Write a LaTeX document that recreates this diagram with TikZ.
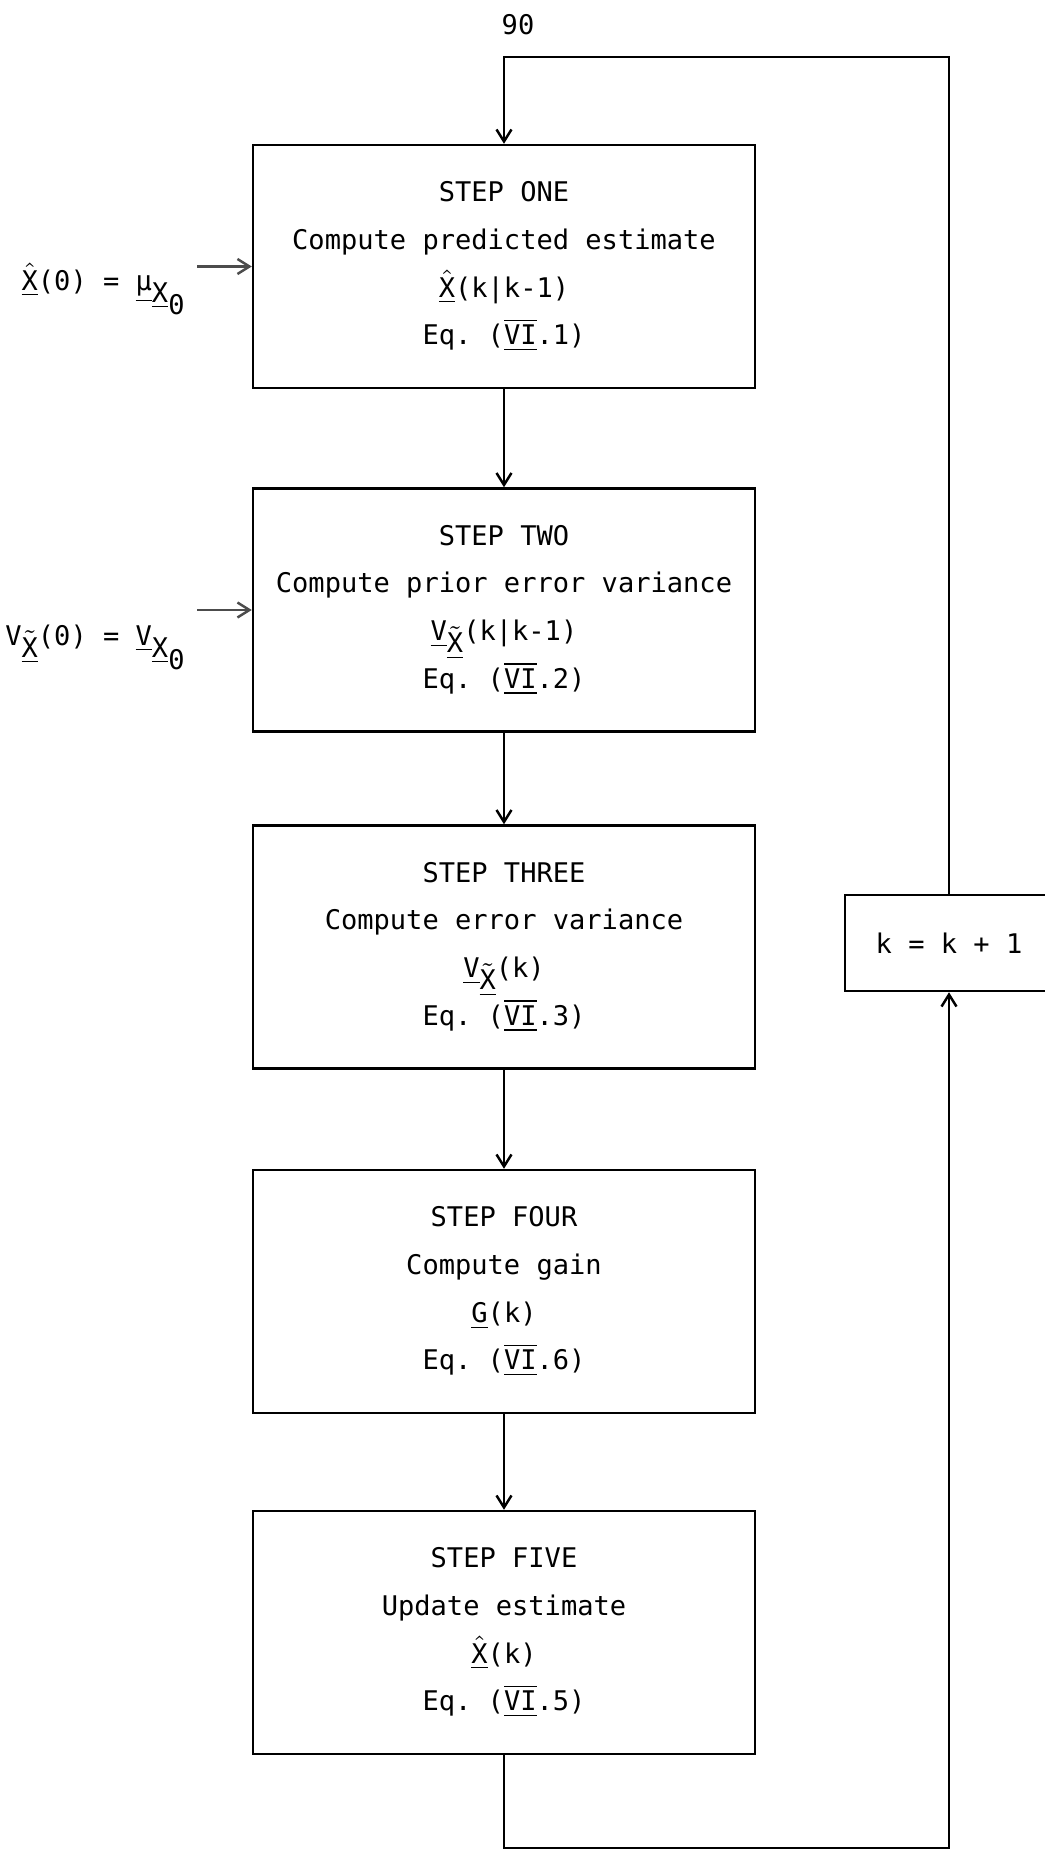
\documentclass[tikz,border=0pt]{standalone}
\usepackage{amsmath}
\usepackage{fontspec}
\setmonofont{DejaVu Sans Mono}
\usetikzlibrary{arrows.meta}
\newcommand{\tsub}[1]{\raisebox{-0.45em}{#1}}
\newcommand{\estX}{$\hat{\underline{\text{X}}}$}
\newcommand{\tildX}{\tsub{$\tilde{\underline{\text{X}}}$}}
\newcommand{\varV}{\underline{V}\tildX}
\newcommand{\numVI}{$\overline{\underline{\text{VI}}}$}

\begin{document}
\begin{tikzpicture}[
  stepbox/.style={draw, line width=0.7pt, minimum width=5.02cm,
                  minimum height=2.43cm, align=center,
                  font=\ttfamily\fontsize{7.7}{13.6}\selectfont},
  initval/.style={font=\ttfamily\fontsize{7.7}{9}\selectfont,
                  anchor=base east},
  flow/.style={line width=0.7pt, -{Straight Barb[length=1.2mm,width=1.5mm]}}]
  \useasboundingbox (0,0) rectangle (10.44,-18.50);
  \node[font=\ttfamily\fontsize{7.7}{9}\selectfont] (pag) at (5.18,-0.25) {90};
  \node[stepbox] (one) at (5.04,-2.665)
    {STEP ONE\\Compute predicted estimate\\\estX(k|k-1)\\Eq. (\numVI.1)};
  \node[stepbox] (two) at (5.04,-6.10)
    {STEP TWO\\Compute prior error variance\\\varV(k|k-1)\\Eq. (\numVI.2)};
  \node[stepbox] (thr) at (5.04,-9.47)
    {STEP THREE\\Compute error variance\\\varV(k)\\Eq. (\numVI.3)};
  \node[stepbox] (fou) at (5.04,-12.915)
    {STEP FOUR\\Compute gain\\\underline{G}(k)\\Eq. (\numVI.6)};
  \node[stepbox] (fiv) at (5.04,-16.325)
    {STEP FIVE\\Update estimate\\\estX(k)\\Eq. (\numVI.5)};
  \node[draw, line width=0.7pt, minimum width=2.08cm, minimum height=0.96cm,
        font=\ttfamily\fontsize{7.7}{9}\selectfont] (inc) at (9.49,-9.43)
    {k = k + 1};
  \node[initval] (xin) at (1.97,-2.90)
    {\estX(0) = \underline{μ}\tsub{\underline{X}\tsub{0}}};
  \node[initval] (vin) at (1.97,-6.45)
    {V\tildX(0) = \underline{V}\tsub{\underline{X}\tsub{0}}};
  \draw[flow, black!70] (xin.east |- one.west) -- (one.west);
  \draw[flow, black!70] (vin.east |- two.west) -- (two.west);
  \draw[flow] (one.south) -- (two.north);
  \draw[flow] (two.south) -- (thr.north);
  \draw[flow] (thr.south) -- (fou.north);
  \draw[flow] (fou.south) -- (fiv.north);
  \coordinate (bot) at (5.04,-18.48);
  \coordinate (top) at (9.49,-0.57);
  \draw[flow] (fiv.south) -- (bot) -| (inc.south);
  \draw[flow] (inc.north) -- (top) -| (one.north);
\end{tikzpicture}
\end{document}
